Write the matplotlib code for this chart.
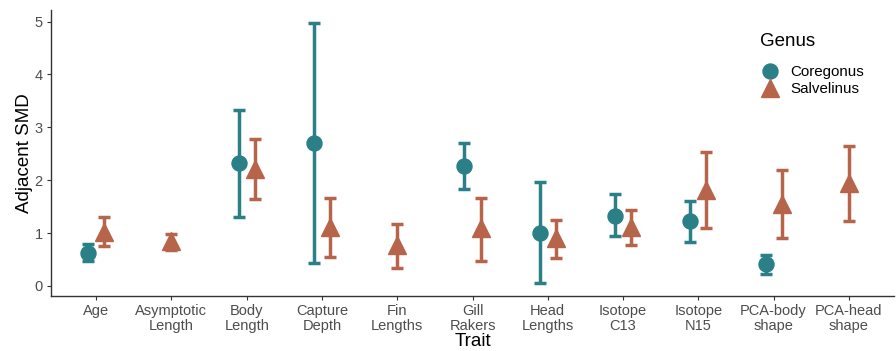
import matplotlib.pyplot as plt
from matplotlib.lines import Line2D
import numpy as np

plt.rcParams['font.family'] = ['Liberation Sans', 'DejaVu Sans']

# traits on the x axis
traits = ['Age', 'Asymptotic\nLength', 'Body\nLength', 'Capture\nDepth', 'Fin\nLengths',
          'Gill\nRakers', 'Head\nLengths', 'Isotope\nC13', 'Isotope\nN15',
          'PCA-body\nshape', 'PCA-head\nshape']

# Coregonus: trait index, SMD, lower, upper
cor_idx = [0, 2, 3, 5, 6, 7, 8, 9]
cor_smd = [0.62, 2.32, 2.70, 2.27, 1.00, 1.33, 1.23, 0.41]
cor_lo = [0.47, 1.31, 0.44, 1.83, 0.06, 0.94, 0.83, 0.22]
cor_hi = [0.80, 3.32, 4.97, 2.71, 1.96, 1.74, 1.61, 0.58]

# Salvelinus
sal_idx = [0, 1, 2, 3, 4, 5, 6, 7, 8, 9, 10]
sal_smd = [1.03, 0.85, 2.22, 1.12, 0.77, 1.09, 0.90, 1.12, 1.81, 1.55, 1.95]
sal_lo = [0.76, 0.68, 1.65, 0.55, 0.34, 0.47, 0.52, 0.77, 1.09, 0.91, 1.23]
sal_hi = [1.31, 0.99, 2.78, 1.66, 1.18, 1.66, 1.25, 1.44, 2.53, 2.20, 2.65]

teal = '#2B7F86'
rust = '#B6654B'

fig = plt.figure(figsize=(8.96, 3.51), dpi=100)
ax = fig.add_axes([51 / 896, 1 - 296 / 351, 843 / 896, 286 / 351])

# dodge only where both genera are present
both = set(cor_idx) & set(sal_idx)
dodge = 0.107
cx = np.array([i - dodge for i in cor_idx]) + 1
sx = np.array([i + dodge if i in both else i for i in sal_idx]) + 1

cor_smd = np.array(cor_smd)
sal_smd = np.array(sal_smd)
ax.errorbar(cx, cor_smd, yerr=[cor_smd - np.array(cor_lo), np.array(cor_hi) - cor_smd],
            fmt='o', color=teal, ms=10.8, elinewidth=2.5, capsize=4.3, capthick=2.5, zorder=3)
ax.errorbar(sx, sal_smd, yerr=[sal_smd - np.array(sal_lo), np.array(sal_hi) - sal_smd],
            fmt='^', color=rust, ms=13, elinewidth=2.5, capsize=4.3, capthick=2.5, zorder=3)

ax.set_xlim(0.4, len(traits) + 0.6)
ax.set_ylim(-0.19, 5.22)
ax.set_xticks(np.arange(1, len(traits) + 1))
ax.set_xticklabels(traits, fontsize=10.5, color='#4D4D4D', linespacing=1.1)
ax.set_yticks(np.arange(0, 6))
ax.tick_params(axis='y', labelsize=10.5, labelcolor='#4D4D4D')
ax.tick_params(length=3, width=0.8, color='#333333', pad=3)

for s in ['top', 'right']:
    ax.spines[s].set_visible(False)
for s in ['left', 'bottom']:
    ax.spines[s].set_color('#333333')
    ax.spines[s].set_linewidth(1.0)

ax.set_xlabel('Trait', fontsize=13.5, labelpad=0)
ax.set_ylabel('Adjacent SMD', fontsize=13.5, labelpad=1)

# legend: title drawn separately so the gap above the keys can be set
fig.text(760 / 896, 1 - 42 / 351, 'Genus', fontsize=13.5, ha='left', va='center')
handles = [Line2D([], [], marker='o', color=teal, ls='none', ms=10.8),
           Line2D([], [], marker='^', color=rust, ls='none', ms=13)]
ax.legend(handles, ['Coregonus', 'Salvelinus'], loc='upper left',
          bbox_to_anchor=(760 / 896, 1 - 65 / 351), bbox_transform=fig.transFigure,
          frameon=False, fontsize=10.9, borderpad=0, borderaxespad=0,
          handletextpad=0.7, labelspacing=0.2, handlelength=1.3)

fig.savefig('out.png', dpi=100)
